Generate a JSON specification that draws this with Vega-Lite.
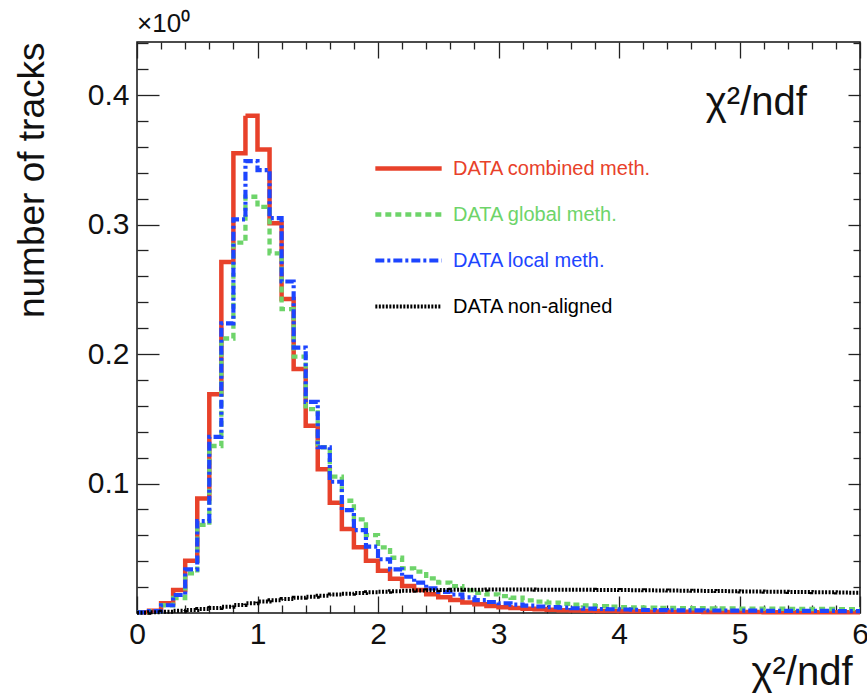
{
"$schema":"https://vega.github.io/schema/vega-lite/v6.json",
"width":723,"height":571,
"autosize":{"type":"none"},
"padding":{"left":137,"top":42,"right":7,"bottom":85},
"background":"white",
"config":{"view":{"stroke":"#111","strokeWidth":1.5},"font":"Liberation Sans","axis":{"grid":false,"domain":false,"tickColor":"#222","tickWidth":1.3,"labelColor":"#111","titleColor":"#111","labelFont":"Liberation Sans","titleFont":"Liberation Sans"}},
"title":{"text":"×10⁰","anchor":"start","frame":"group","fontSize":26,"fontWeight":"normal","font":"Liberation Sans","color":"#111","offset":4},
"datasets":{"h":[
{"s":"c","x":0.0,"y":0.0005},{"s":"c","x":0.1,"y":0.0018},{"s":"c","x":0.2,"y":0.0075},{"s":"c","x":0.3,"y":0.0178},{"s":"c","x":0.4,"y":0.0404},{"s":"c","x":0.5,"y":0.0885},{"s":"c","x":0.6,"y":0.169},{"s":"c","x":0.7,"y":0.271},{"s":"c","x":0.8,"y":0.355},{"s":"c","x":0.9,"y":0.384},
{"s":"c","x":1.0,"y":0.358},{"s":"c","x":1.1,"y":0.301},{"s":"c","x":1.2,"y":0.2425},{"s":"c","x":1.3,"y":0.1884},{"s":"c","x":1.4,"y":0.1447},{"s":"c","x":1.5,"y":0.111},{"s":"c","x":1.6,"y":0.0852},{"s":"c","x":1.7,"y":0.0649},{"s":"c","x":1.8,"y":0.0507},{"s":"c","x":1.9,"y":0.0404},
{"s":"c","x":2.0,"y":0.0327},{"s":"c","x":2.1,"y":0.0265},{"s":"c","x":2.2,"y":0.0208},{"s":"c","x":2.3,"y":0.0178},{"s":"c","x":2.4,"y":0.0144},{"s":"c","x":2.5,"y":0.0121},{"s":"c","x":2.6,"y":0.0100},{"s":"c","x":2.7,"y":0.0082},{"s":"c","x":2.8,"y":0.0067},{"s":"c","x":2.9,"y":0.0054},
{"s":"c","x":3.0,"y":0.0044},{"s":"c","x":3.1,"y":0.0038},{"s":"c","x":3.2,"y":0.0033},{"s":"c","x":3.3,"y":0.0029},{"s":"c","x":3.4,"y":0.0025},{"s":"c","x":3.5,"y":0.0022},{"s":"c","x":3.6,"y":0.0020},{"s":"c","x":3.7,"y":0.0018},{"s":"c","x":3.8,"y":0.0016},{"s":"c","x":3.9,"y":0.0015},
{"s":"c","x":4.0,"y":0.0014},{"s":"c","x":4.1,"y":0.0013},{"s":"c","x":4.2,"y":0.0012},{"s":"c","x":4.3,"y":0.0011},{"s":"c","x":4.4,"y":0.0010},{"s":"c","x":4.5,"y":0.0010},{"s":"c","x":4.6,"y":0.0009},{"s":"c","x":4.7,"y":0.0008},{"s":"c","x":4.8,"y":0.0008},{"s":"c","x":4.9,"y":0.0007},
{"s":"c","x":5.0,"y":0.0007},{"s":"c","x":5.1,"y":0.0007},{"s":"c","x":5.2,"y":0.0006},{"s":"c","x":5.3,"y":0.0006},{"s":"c","x":5.4,"y":0.0006},{"s":"c","x":5.5,"y":0.0006},{"s":"c","x":5.6,"y":0.0005},{"s":"c","x":5.7,"y":0.0005},{"s":"c","x":5.8,"y":0.0005},{"s":"c","x":5.9,"y":0.0005},{"s":"c","x":6.0,"y":0.0005},
{"s":"g","x":0.0,"y":0.0005},{"s":"g","x":0.1,"y":0.0015},{"s":"g","x":0.2,"y":0.006},{"s":"g","x":0.3,"y":0.0116},{"s":"g","x":0.4,"y":0.0306},{"s":"g","x":0.5,"y":0.068},{"s":"g","x":0.6,"y":0.129},{"s":"g","x":0.7,"y":0.212},{"s":"g","x":0.8,"y":0.286},{"s":"g","x":0.9,"y":0.3215},
{"s":"g","x":1.0,"y":0.3137},{"s":"g","x":1.1,"y":0.2777},{"s":"g","x":1.2,"y":0.2347},{"s":"g","x":1.3,"y":0.198},{"s":"g","x":1.4,"y":0.1575},{"s":"g","x":1.5,"y":0.128},{"s":"g","x":1.6,"y":0.1053},{"s":"g","x":1.7,"y":0.0867},{"s":"g","x":1.8,"y":0.0723},{"s":"g","x":1.9,"y":0.0602},
{"s":"g","x":2.0,"y":0.0507},{"s":"g","x":2.1,"y":0.0427},{"s":"g","x":2.2,"y":0.0345},{"s":"g","x":2.3,"y":0.0319},{"s":"g","x":2.4,"y":0.0268},{"s":"g","x":2.5,"y":0.0234},{"s":"g","x":2.6,"y":0.0208},{"s":"g","x":2.7,"y":0.0175},{"s":"g","x":2.8,"y":0.0155},{"s":"g","x":2.9,"y":0.0144},
{"s":"g","x":3.0,"y":0.0130},{"s":"g","x":3.1,"y":0.0118},{"s":"g","x":3.2,"y":0.0098},{"s":"g","x":3.3,"y":0.0088},{"s":"g","x":3.4,"y":0.0080},{"s":"g","x":3.5,"y":0.0071},{"s":"g","x":3.6,"y":0.0064},{"s":"g","x":3.7,"y":0.0058},{"s":"g","x":3.8,"y":0.0053},{"s":"g","x":3.9,"y":0.0049},
{"s":"g","x":4.0,"y":0.0046},{"s":"g","x":4.1,"y":0.0044},{"s":"g","x":4.2,"y":0.0042},{"s":"g","x":4.3,"y":0.0040},{"s":"g","x":4.4,"y":0.0039},{"s":"g","x":4.5,"y":0.0038},{"s":"g","x":4.6,"y":0.0037},{"s":"g","x":4.7,"y":0.0036},{"s":"g","x":4.8,"y":0.0035},{"s":"g","x":4.9,"y":0.0035},
{"s":"g","x":5.0,"y":0.0034},{"s":"g","x":5.1,"y":0.0034},{"s":"g","x":5.2,"y":0.0033},{"s":"g","x":5.3,"y":0.0033},{"s":"g","x":5.4,"y":0.0032},{"s":"g","x":5.5,"y":0.0032},{"s":"g","x":5.6,"y":0.0031},{"s":"g","x":5.7,"y":0.0031},{"s":"g","x":5.8,"y":0.0030},{"s":"g","x":5.9,"y":0.0030},{"s":"g","x":6.0,"y":0.0030},
{"s":"l","x":0.0,"y":0.0005},{"s":"l","x":0.1,"y":0.0015},{"s":"l","x":0.2,"y":0.006},{"s":"l","x":0.3,"y":0.0139},{"s":"l","x":0.4,"y":0.0337},{"s":"l","x":0.5,"y":0.071},{"s":"l","x":0.6,"y":0.136},{"s":"l","x":0.7,"y":0.2237},{"s":"l","x":0.8,"y":0.304},{"s":"l","x":0.9,"y":0.349},
{"s":"l","x":1.0,"y":0.342},{"s":"l","x":1.1,"y":0.305},{"s":"l","x":1.2,"y":0.256},{"s":"l","x":1.3,"y":0.205},{"s":"l","x":1.4,"y":0.163},{"s":"l","x":1.5,"y":0.128},{"s":"l","x":1.6,"y":0.1014},{"s":"l","x":1.7,"y":0.0795},{"s":"l","x":1.8,"y":0.064},{"s":"l","x":1.9,"y":0.0512},
{"s":"l","x":2.0,"y":0.0415},{"s":"l","x":2.1,"y":0.0337},{"s":"l","x":2.2,"y":0.028},{"s":"l","x":2.3,"y":0.0234},{"s":"l","x":2.4,"y":0.019},{"s":"l","x":2.5,"y":0.0163},{"s":"l","x":2.6,"y":0.0143},{"s":"l","x":2.7,"y":0.0121},{"s":"l","x":2.8,"y":0.0100},{"s":"l","x":2.9,"y":0.0085},
{"s":"l","x":3.0,"y":0.0075},{"s":"l","x":3.1,"y":0.0065},{"s":"l","x":3.2,"y":0.0057},{"s":"l","x":3.3,"y":0.0050},{"s":"l","x":3.4,"y":0.0045},{"s":"l","x":3.5,"y":0.0041},{"s":"l","x":3.6,"y":0.0037},{"s":"l","x":3.7,"y":0.0034},{"s":"l","x":3.8,"y":0.0031},{"s":"l","x":3.9,"y":0.0029},
{"s":"l","x":4.0,"y":0.0027},{"s":"l","x":4.1,"y":0.0025},{"s":"l","x":4.2,"y":0.0023},{"s":"l","x":4.3,"y":0.0022},{"s":"l","x":4.4,"y":0.0021},{"s":"l","x":4.5,"y":0.0020},{"s":"l","x":4.6,"y":0.0020},{"s":"l","x":4.7,"y":0.0019},{"s":"l","x":4.8,"y":0.0019},{"s":"l","x":4.9,"y":0.0018},
{"s":"l","x":5.0,"y":0.0018},{"s":"l","x":5.1,"y":0.0018},{"s":"l","x":5.2,"y":0.0017},{"s":"l","x":5.3,"y":0.0017},{"s":"l","x":5.4,"y":0.0017},{"s":"l","x":5.5,"y":0.0016},{"s":"l","x":5.6,"y":0.0016},{"s":"l","x":5.7,"y":0.0016},{"s":"l","x":5.8,"y":0.0015},{"s":"l","x":5.9,"y":0.0015},{"s":"l","x":6.0,"y":0.0015},
{"s":"n","x":0.0,"y":0.0002},{"s":"n","x":0.1,"y":0.0005},{"s":"n","x":0.2,"y":0.0010},{"s":"n","x":0.3,"y":0.0017},{"s":"n","x":0.4,"y":0.0024},{"s":"n","x":0.5,"y":0.0031},{"s":"n","x":0.6,"y":0.0039},{"s":"n","x":0.7,"y":0.0048},{"s":"n","x":0.8,"y":0.0062},{"s":"n","x":0.9,"y":0.0076},
{"s":"n","x":1.0,"y":0.0088},{"s":"n","x":1.1,"y":0.0098},{"s":"n","x":1.2,"y":0.0108},{"s":"n","x":1.3,"y":0.0118},{"s":"n","x":1.4,"y":0.0126},{"s":"n","x":1.5,"y":0.0134},{"s":"n","x":1.6,"y":0.0142},{"s":"n","x":1.7,"y":0.0149},{"s":"n","x":1.8,"y":0.0155},{"s":"n","x":1.9,"y":0.0160},
{"s":"n","x":2.0,"y":0.0164},{"s":"n","x":2.1,"y":0.0168},{"s":"n","x":2.2,"y":0.0171},{"s":"n","x":2.3,"y":0.0174},{"s":"n","x":2.4,"y":0.0176},{"s":"n","x":2.5,"y":0.0178},{"s":"n","x":2.6,"y":0.0179},{"s":"n","x":2.7,"y":0.0180},{"s":"n","x":2.8,"y":0.0180},{"s":"n","x":2.9,"y":0.0181},
{"s":"n","x":3.0,"y":0.0181},{"s":"n","x":3.1,"y":0.0181},{"s":"n","x":3.2,"y":0.0181},{"s":"n","x":3.3,"y":0.0180},{"s":"n","x":3.4,"y":0.0180},{"s":"n","x":3.5,"y":0.0180},{"s":"n","x":3.6,"y":0.0179},{"s":"n","x":3.7,"y":0.0179},{"s":"n","x":3.8,"y":0.0178},{"s":"n","x":3.9,"y":0.0178},
{"s":"n","x":4.0,"y":0.0177},{"s":"n","x":4.1,"y":0.0176},{"s":"n","x":4.2,"y":0.0175},{"s":"n","x":4.3,"y":0.0174},{"s":"n","x":4.4,"y":0.0173},{"s":"n","x":4.5,"y":0.0172},{"s":"n","x":4.6,"y":0.0171},{"s":"n","x":4.7,"y":0.0170},{"s":"n","x":4.8,"y":0.0169},{"s":"n","x":4.9,"y":0.0168},
{"s":"n","x":5.0,"y":0.0167},{"s":"n","x":5.1,"y":0.0166},{"s":"n","x":5.2,"y":0.0165},{"s":"n","x":5.3,"y":0.0164},{"s":"n","x":5.4,"y":0.0163},{"s":"n","x":5.5,"y":0.0162},{"s":"n","x":5.6,"y":0.0161},{"s":"n","x":5.7,"y":0.0160},{"s":"n","x":5.8,"y":0.0158},{"s":"n","x":5.9,"y":0.0157},{"s":"n","x":6.0,"y":0.0157}
]},
"data":{"name":"h"},
"layer":[
{"mark":{"type":"line","interpolate":"step-after","strokeCap":"butt"},
 "encoding":{
  "x":{"field":"x","type":"quantitative","scale":{"domain":[0,6],"nice":false,"zero":false},
       "axis":{"orient":"bottom","values":[0,1,2,3,4,5,6],"ticks":false,"labelFontSize":30,"labelPadding":6,"labelFlush":false,"title":"χ²/ndf","titleFontSize":40,"titleFontWeight":"normal","titleAnchor":"end","titleX":715,"titleAlign":"right","titlePadding":3}},
  "y":{"field":"y","type":"quantitative","scale":{"domain":[0,0.441],"nice":false},
       "axis":{"orient":"left","values":[0.1,0.2,0.3,0.4],"format":".1f","ticks":false,"labelFontSize":30,"labelPadding":8,"title":"number of tracks","titleFontSize":37,"titleFontWeight":"normal","titleAnchor":"end","titlePadding":36}},
  "color":{"field":"s","type":"nominal","scale":{"domain":["c","g","l","n"],"range":["#e8412a","#6ed46a","#1d45ff","#000000"]},
       "legend":{"orient":"none","legendX":236,"legendY":91,"title":null,"padding":0,"symbolType":"stroke","symbolSize":4400,"labelFontSize":20,"labelFont":"Liberation Sans","labelOffset":9,"labelLimit":400,"rowPadding":-12,
         "labelExpr":"datum.label=='c'?'DATA combined meth.':datum.label=='g'?'DATA global meth.':datum.label=='l'?'DATA local meth.':'DATA non-aligned'",
         "encode":{"labels":{"update":{"fill":{"scale":"color","field":"value"}}}}}},
  "strokeDash":{"field":"s","type":"nominal","scale":{"domain":["c","g","l","n"],"range":[[1,0],[6,4],[9,3,3,3],[2,1.5]]}},
  "strokeWidth":{"field":"s","type":"nominal","scale":{"domain":["c","g","l","n"],"range":[4.5,4,4,3.5]}}
 }},
{"mark":{"type":"point","opacity":0},
 "encoding":{
  "x":{"field":"x","type":"quantitative","axis":{"orient":"bottom","values":[0,1,2,3,4,5,6],"tickSize":-17,"labels":false,"title":null}},
  "y":{"field":"y","type":"quantitative","axis":{"orient":"left","values":[0.1,0.2,0.3,0.4],"tickSize":-22,"labels":false,"title":null}}
 }},
{"mark":{"type":"point","opacity":0},
 "encoding":{
  "x":{"field":"x","type":"quantitative","axis":{"orient":"bottom","values":[0.2,0.4,0.6,0.8,1.2,1.4,1.6,1.8,2.2,2.4,2.6,2.8,3.2,3.4,3.6,3.8,4.2,4.4,4.6,4.8,5.2,5.4,5.6,5.8],"tickSize":-8,"labels":false,"title":null}},
  "y":{"field":"y","type":"quantitative","axis":{"orient":"left","values":[0.02,0.04,0.06,0.08,0.12,0.14,0.16,0.18,0.22,0.24,0.26,0.28,0.32,0.34,0.36,0.38,0.42,0.44],"tickSize":-11,"labels":false,"title":null}}
 }},
{"mark":{"type":"point","opacity":0},
 "encoding":{
  "x":{"field":"x","type":"quantitative","axis":{"orient":"top","values":[0,1,2,3,4,5,6],"tickSize":-16,"labels":false,"title":null}},
  "y":{"field":"y","type":"quantitative","axis":{"orient":"right","values":[0.1,0.2,0.3,0.4],"tickSize":-12,"labels":false,"title":null}}
 }},
{"mark":{"type":"point","opacity":0},
 "encoding":{
  "x":{"field":"x","type":"quantitative","axis":{"orient":"top","values":[0.2,0.4,0.6,0.8,1.2,1.4,1.6,1.8,2.2,2.4,2.6,2.8,3.2,3.4,3.6,3.8,4.2,4.4,4.6,4.8,5.2,5.4,5.6,5.8],"tickSize":-7,"labels":false,"title":null}},
  "y":{"field":"y","type":"quantitative","axis":{"orient":"right","values":[0.02,0.04,0.06,0.08,0.12,0.14,0.16,0.18,0.22,0.24,0.26,0.28,0.32,0.34,0.36,0.38,0.42,0.44],"tickSize":-7,"labels":false,"title":null}}
 }},
{"data":{"values":[{"t":"χ²/ndf","x":5.14,"y":0.385}]},
 "mark":{"type":"text","fontSize":40,"font":"Liberation Sans","align":"center","baseline":"alphabetic","color":"#111"},
 "encoding":{
  "x":{"field":"x","type":"quantitative","axis":null},
  "y":{"field":"y","type":"quantitative","axis":null},
  "text":{"field":"t"}
 }}
],
"resolve":{"axis":{"x":"independent","y":"independent"}}
}
